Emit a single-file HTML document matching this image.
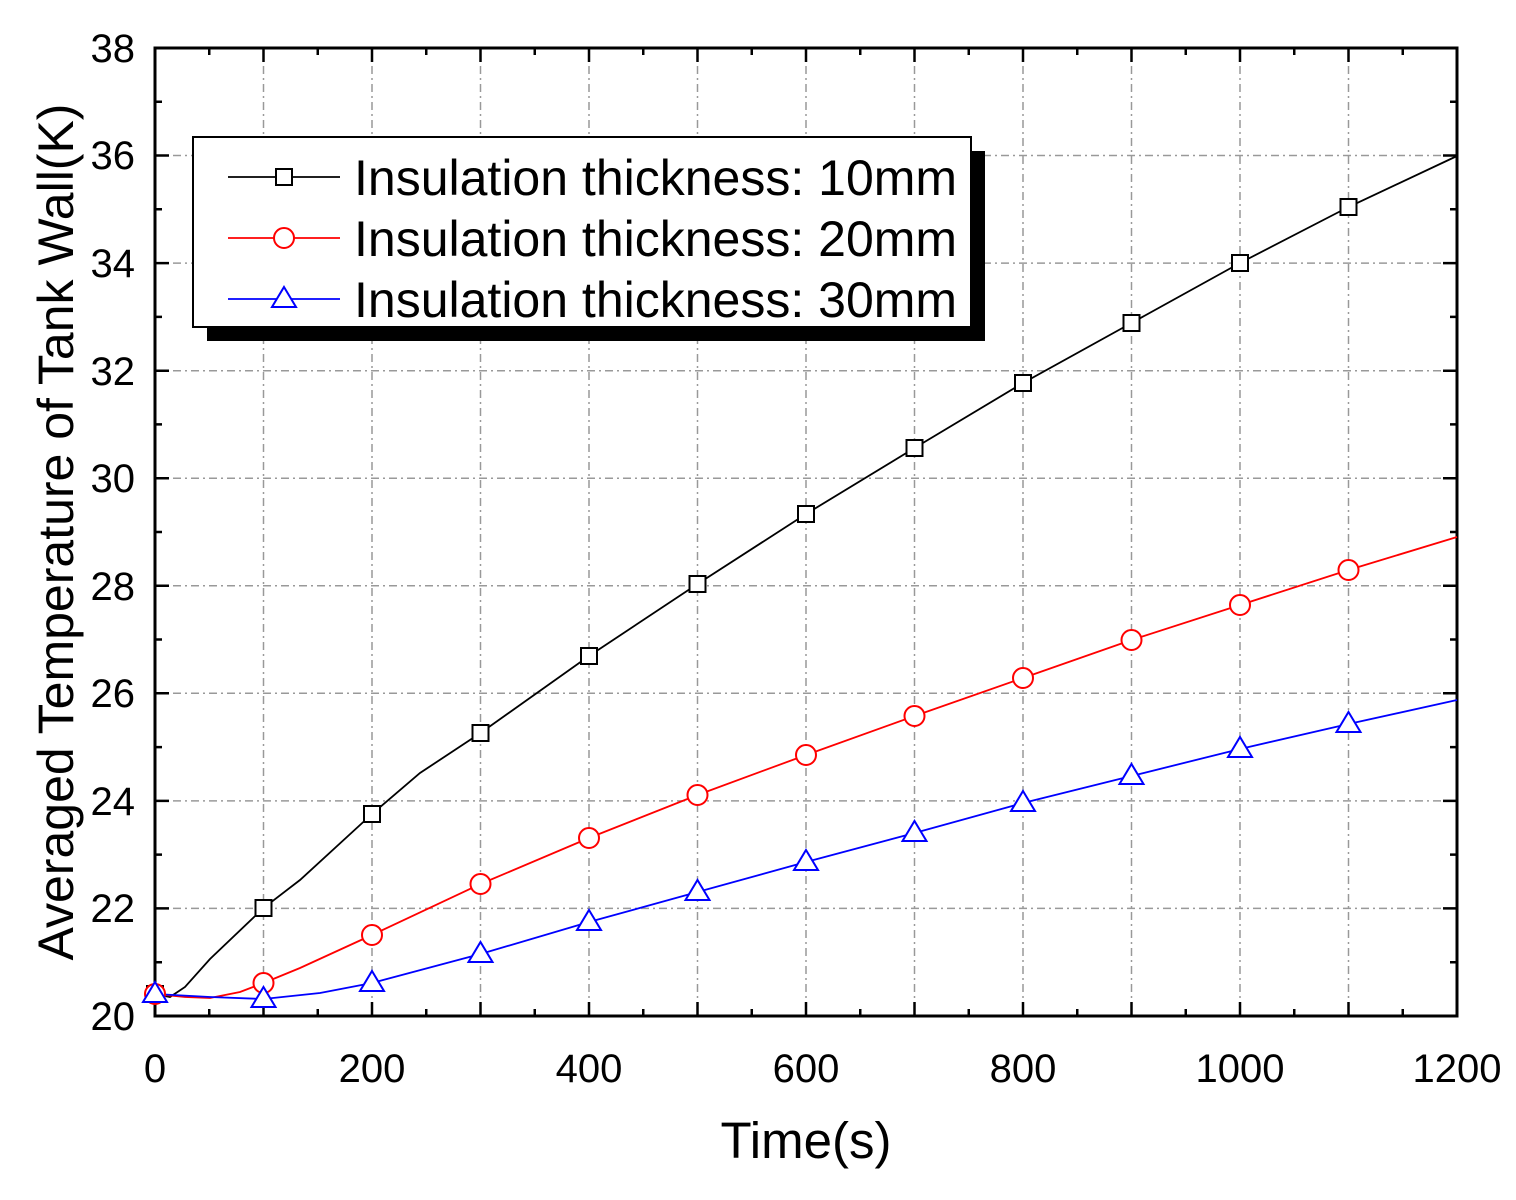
<!DOCTYPE html>
<html><head><style>body{margin:0;background:#fff}svg{display:block}</style></head><body>
<svg width="1516" height="1200" xmlns="http://www.w3.org/2000/svg" font-family="Liberation Sans, Arial, sans-serif">
<rect width="1516" height="1200" fill="#fff"/>
<g stroke="#999" stroke-width="1.5" stroke-dasharray="8,4,2,4">
<line x1="263.5" y1="48" x2="263.5" y2="1016"/><line x1="372" y1="48" x2="372" y2="1016"/><line x1="480.5" y1="48" x2="480.5" y2="1016"/><line x1="589" y1="48" x2="589" y2="1016"/><line x1="697.5" y1="48" x2="697.5" y2="1016"/><line x1="806" y1="48" x2="806" y2="1016"/><line x1="914.5" y1="48" x2="914.5" y2="1016"/><line x1="1023" y1="48" x2="1023" y2="1016"/><line x1="1131.5" y1="48" x2="1131.5" y2="1016"/><line x1="1240" y1="48" x2="1240" y2="1016"/><line x1="1348.5" y1="48" x2="1348.5" y2="1016"/>
<line x1="155" y1="908.4" x2="1457" y2="908.4"/><line x1="155" y1="800.9" x2="1457" y2="800.9"/><line x1="155" y1="693.3" x2="1457" y2="693.3"/><line x1="155" y1="585.8" x2="1457" y2="585.8"/><line x1="155" y1="478.2" x2="1457" y2="478.2"/><line x1="155" y1="370.7" x2="1457" y2="370.7"/><line x1="155" y1="263.1" x2="1457" y2="263.1"/><line x1="155" y1="155.5" x2="1457" y2="155.5"/>
</g>
<g stroke="#000" stroke-width="2.5">
<path d="M155,1016v-14M209.25,1016v-7M263.5,1016v-14M317.75,1016v-7M372,1016v-14M426.25,1016v-7M480.5,1016v-14M534.75,1016v-7M589,1016v-14M643.25,1016v-7M697.5,1016v-14M751.75,1016v-7M806,1016v-14M860.25,1016v-7M914.5,1016v-14M968.75,1016v-7M1023,1016v-14M1077.25,1016v-7M1131.5,1016v-14M1185.75,1016v-7M1240,1016v-14M1294.25,1016v-7M1348.5,1016v-14M1402.75,1016v-7M1457,1016v-14"/>
<path d="M155,48v14M263.5,48v14M372,48v14M480.5,48v14M589,48v14M697.5,48v14M806,48v14M914.5,48v14M1023,48v14M1131.5,48v14M1240,48v14M1348.5,48v14M1457,48v14M209.25,48v7M317.75,48v7M426.25,48v7M534.75,48v7M643.25,48v7M751.75,48v7M860.25,48v7M968.75,48v7M1077.25,48v7M1185.75,48v7M1294.25,48v7M1402.75,48v7"/>
<path d="M155,908.4h14M155,800.9h14M155,693.3h14M155,585.8h14M155,478.2h14M155,370.7h14M155,263.1h14M155,155.5h14M155,962.2h7M155,854.6h7M155,747.1h7M155,639.5h7M155,532h7M155,424.4h7M155,316.9h7M155,209.3h7M155,101.8h7"/>
<path d="M1457,908.4h-14M1457,800.9h-14M1457,693.3h-14M1457,585.8h-14M1457,478.2h-14M1457,370.7h-14M1457,263.1h-14M1457,155.5h-14M1457,962.2h-7M1457,854.6h-7M1457,747.1h-7M1457,639.5h-7M1457,532h-7M1457,424.4h-7M1457,316.9h-7M1457,209.3h-7M1457,101.8h-7"/>
</g>
<rect x="155" y="48" width="1302" height="968" fill="none" stroke="#000" stroke-width="3"/>
<g font-size="40" text-anchor="middle">
<text x="155" y="1082">0</text><text x="372" y="1082">200</text><text x="589" y="1082">400</text><text x="806" y="1082">600</text><text x="1023" y="1082">800</text><text x="1240" y="1082">1000</text><text x="1457" y="1082">1200</text>
</g>
<g font-size="40" text-anchor="end">
<text x="135" y="1030">20</text><text x="135" y="922">22</text><text x="135" y="815">24</text><text x="135" y="707">26</text><text x="135" y="600">28</text><text x="135" y="492">30</text><text x="135" y="385">32</text><text x="135" y="277">34</text><text x="135" y="169">36</text><text x="135" y="62">38</text>
</g>
<text x="806" y="1158" font-size="51" text-anchor="middle">Time(s)</text>
<text transform="translate(73,532) rotate(-90)" font-size="50" text-anchor="middle">Averaged Temperature of Tank Wall(K)</text>
<polyline fill="none" stroke="#000" stroke-width="1.8" points="155,994 170,997 185,987 210,959 263.5,908 300,880 372,814 420,773 480.5,733 589,656 697.5,584 806,514 914.5,448 1023,383 1131.5,323 1240,263 1348.5,207 1457,156"/>
<polyline fill="none" stroke="#f00" stroke-width="1.8" points="155,994 185,997 210,998 240,992 263.5,983 300,968 372,935 480.5,884 589,838 697.5,795 806,755 914.5,716 1023,678 1131.5,640 1240,605 1348.5,570 1457,537"/>
<polyline fill="none" stroke="#00f" stroke-width="1.8" points="155,994 210,997 263.5,999 320,993 372,983 480.5,954 589,922 697.5,892 806,862 914.5,833 1023,803 1131.5,776 1240,749 1348.5,724 1457,700"/>
<g fill="#fff" stroke="#000" stroke-width="2">
<rect x="147" y="986" width="16" height="16"/><rect x="255.5" y="900" width="16" height="16"/><rect x="364" y="806" width="16" height="16"/><rect x="472.5" y="725" width="16" height="16"/><rect x="581" y="648" width="16" height="16"/><rect x="689.5" y="576" width="16" height="16"/><rect x="798" y="506" width="16" height="16"/><rect x="906.5" y="440" width="16" height="16"/><rect x="1015" y="375" width="16" height="16"/><rect x="1123.5" y="315" width="16" height="16"/><rect x="1232" y="255" width="16" height="16"/><rect x="1340.5" y="199" width="16" height="16"/>
</g>
<g fill="#fff" stroke="#f00" stroke-width="2">
<circle cx="155" cy="994" r="10"/><circle cx="263.5" cy="983" r="10"/><circle cx="372" cy="935" r="10"/><circle cx="480.5" cy="884" r="10"/><circle cx="589" cy="838" r="10"/><circle cx="697.5" cy="795" r="10"/><circle cx="806" cy="755" r="10"/><circle cx="914.5" cy="716" r="10"/><circle cx="1023" cy="678" r="10"/><circle cx="1131.5" cy="640" r="10"/><circle cx="1240" cy="605" r="10"/><circle cx="1348.5" cy="570" r="10"/>
</g>
<g fill="#fff" stroke="#00f" stroke-width="2">
<path d="M155,982l12,20h-24z"/><path d="M263.5,987l12,20h-24z"/><path d="M372,971l12,20h-24z"/><path d="M480.5,942l12,20h-24z"/><path d="M589,910l12,20h-24z"/><path d="M697.5,880l12,20h-24z"/><path d="M806,850l12,20h-24z"/><path d="M914.5,821l12,20h-24z"/><path d="M1023,791l12,20h-24z"/><path d="M1131.5,764l12,20h-24z"/><path d="M1240,737l12,20h-24z"/><path d="M1348.5,712l12,20h-24z"/>
</g>
<rect x="207" y="151" width="778" height="190" fill="#000"/>
<rect x="193" y="137" width="778" height="190" fill="#fff" stroke="#000" stroke-width="2"/>
<line x1="228" y1="177" x2="340" y2="177" stroke="#000" stroke-width="1.8"/>
<rect x="276" y="169" width="16" height="16" fill="#fff" stroke="#000" stroke-width="2"/>
<line x1="228" y1="238" x2="340" y2="238" stroke="#f00" stroke-width="1.8"/>
<circle cx="284" cy="238" r="10" fill="#fff" stroke="#f00" stroke-width="2"/>
<line x1="228" y1="299" x2="340" y2="299" stroke="#00f" stroke-width="1.8"/>
<path d="M284,287l12,20h-24z" fill="#fff" stroke="#00f" stroke-width="2"/>
<g font-size="50">
<text x="354" y="195">Insulation thickness: 10mm</text>
<text x="354" y="256">Insulation thickness: 20mm</text>
<text x="354" y="317">Insulation thickness: 30mm</text>
</g>
</svg>
</body></html>
